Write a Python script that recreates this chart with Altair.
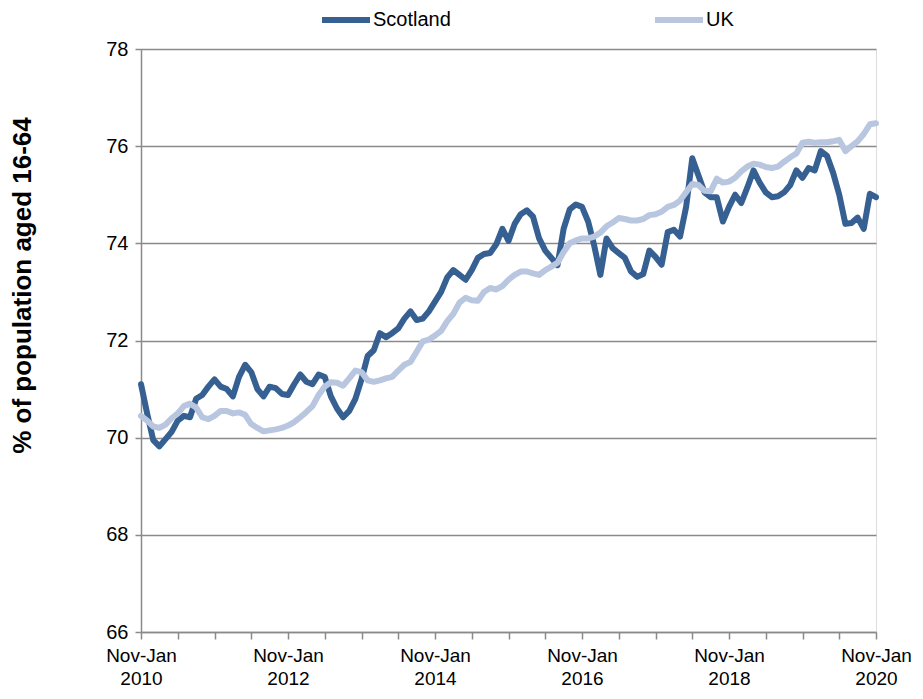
import altair as alt
import pandas as pd

series_names = ["Scotland", "UK"]
tick_years = [2010, 2012, 2014, 2016, 2018, 2020]
y_ticks = [66, 68, 70, 72, 74, 76, 78]

# Rolling quarter (Nov-Jan 2010 ... Nov-Jan 2020), monthly steps
scotland = [
    71.1, 70.5, 69.95, 69.82, 69.97, 70.12, 70.35, 70.45, 70.42, 70.8,
    70.88, 71.05, 71.2, 71.05, 71.0, 70.85, 71.25, 71.5, 71.35, 71.0,
    70.85, 71.05, 71.02, 70.9, 70.88, 71.1, 71.3, 71.15, 71.1, 71.3,
    71.25, 70.85, 70.6, 70.42, 70.55, 70.8, 71.2, 71.68, 71.8, 72.15,
    72.07, 72.15, 72.25, 72.45, 72.6, 72.42, 72.45, 72.6, 72.8, 73.0,
    73.3, 73.45, 73.35, 73.25, 73.45, 73.7, 73.78, 73.8, 73.98, 74.3,
    74.05, 74.4, 74.6, 74.68, 74.55, 74.1, 73.85, 73.7, 73.55, 74.3,
    74.7, 74.8, 74.75, 74.45, 73.95, 73.35, 74.1, 73.9, 73.8, 73.7,
    73.42, 73.31, 73.37, 73.85, 73.72, 73.56, 74.23, 74.28, 74.14, 74.75,
    75.75, 75.4, 75.05, 74.95, 74.95, 74.45, 74.75, 75.0, 74.83, 75.15,
    75.5, 75.25, 75.05, 74.95, 74.97, 75.05, 75.2, 75.5, 75.35, 75.55,
    75.5, 75.9, 75.8, 75.45, 75.0, 74.4, 74.42, 74.53, 74.3, 75.02,
    74.95,
]
uk = [
    70.45, 70.35, 70.23, 70.2, 70.27, 70.4, 70.5, 70.65, 70.7, 70.62,
    70.42, 70.38, 70.45, 70.55, 70.55, 70.5, 70.52, 70.47, 70.28, 70.2,
    70.13, 70.15, 70.17, 70.2, 70.25, 70.32, 70.42, 70.53, 70.65, 70.88,
    71.05, 71.14, 71.13, 71.07, 71.22, 71.38, 71.35, 71.18, 71.15, 71.18,
    71.22, 71.25, 71.38, 71.5, 71.56, 71.77, 71.98, 72.02, 72.1, 72.2,
    72.4, 72.55, 72.78, 72.88, 72.83, 72.82, 73.0, 73.08, 73.05, 73.12,
    73.25, 73.35, 73.42, 73.42, 73.38, 73.35, 73.45, 73.52, 73.6, 73.82,
    74.0, 74.06, 74.1, 74.1, 74.14, 74.22, 74.35, 74.43, 74.52, 74.5,
    74.47, 74.47, 74.5, 74.58, 74.6, 74.65, 74.75, 74.79, 74.88, 75.05,
    75.22, 75.2, 75.08, 75.07, 75.33, 75.25, 75.27, 75.35, 75.48, 75.58,
    75.64, 75.62, 75.57, 75.55, 75.58, 75.68, 75.77, 75.85, 76.07, 76.09,
    76.07, 76.08, 76.08, 76.1, 76.13, 75.9, 76.0, 76.1, 76.25, 76.45,
    76.47,
]

rows = []
for i, v in enumerate(scotland):
    rows.append({"t": i, "value": v, "series": "Scotland"})
for i, v in enumerate(uk):
    rows.append({"t": i, "value": v, "series": "UK"})
df = pd.DataFrame(rows)

FONT = "Liberation Sans"
GRID = "#8a8a8a"

x_ticks = list(range(0, 121, 6))

chart = alt.Chart(df).mark_line(strokeWidth=6, strokeJoin="round", strokeCap="round").encode(
    x=alt.X(
        "t:Q",
        scale=alt.Scale(domain=[0, 120], nice=False, zero=False),
        axis=alt.Axis(
            values=x_ticks,
            labelExpr="datum.value % 24 == 0 ? ['Nov-Jan', toString(2010 + datum.value / 12)] : ''",
            grid=False,
            domainColor=GRID,
            domainWidth=1.5,
            tickColor=GRID,
            tickWidth=1.5,
            tickSize=7,
            labelFont=FONT,
            labelFontSize=19,
            labelColor="#000000",
            labelPadding=7,
            labelLineHeight=23,
            labelFlush=False,
            labelOverlap=False,
            title=None,
        ),
    ),
    y=alt.Y(
        "value:Q",
        scale=alt.Scale(domain=[66, 78], nice=False, zero=False),
        axis=alt.Axis(
            values=y_ticks,
            grid=True,
            gridColor=GRID,
            gridWidth=1.5,
            domainColor=GRID,
            domainWidth=1.5,
            tickColor=GRID,
            tickWidth=1.5,
            tickSize=6,
            labelFont=FONT,
            labelFontSize=20,
            labelColor="#000000",
            labelPadding=7,
            title="% of population aged 16-64",
            titleFont=FONT,
            titleFontSize=26,
            titleFontWeight="bold",
            titleColor="#000000",
            titleAngle=270,
            titleX=-119,
            titleY=236,
            titleAlign="center",
            titleBaseline="middle",
        ),
    ),
    color=alt.Color(
        "series:N",
        scale=alt.Scale(domain=series_names, range=["#376092", "#B9C6E0"]),
        legend=alt.Legend(
            title=None,
            orient="none",
            legendX=178,
            legendY=-56,
            direction="horizontal",
            symbolType="stroke",
            symbolSize=2304,
            symbolStrokeWidth=6,
            labelFont=FONT,
            labelFontSize=20,
            labelColor="#000000",
            labelOffset=0,
            columnPadding=192,
            padding=0,
        ),
    ),
).properties(
    width=735,
    height=583,
    autosize=alt.AutoSizeParams(type="none"),
    padding={"left": 133, "top": 41, "right": 38, "bottom": 59},
).configure_view(stroke=None).configure(background="white")

chart.save("out.html", embed_options={"renderer": "svg", "actions": False})
